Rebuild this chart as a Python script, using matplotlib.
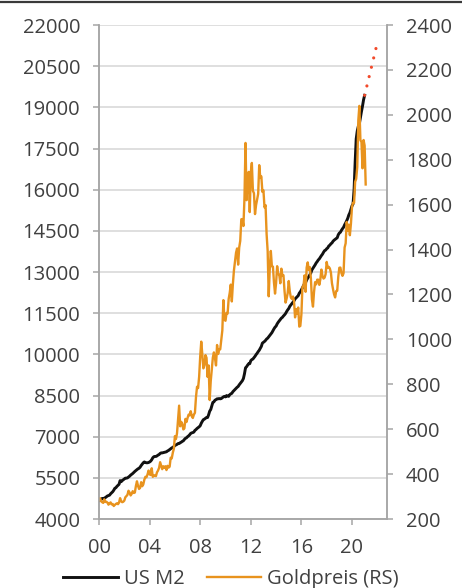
import numpy as np
from matplotlib import pyplot as plt
from matplotlib.lines import Line2D

plt.rcParams['font.family'] = ['Open Sans', 'DejaVu Sans']

# monthly values, Jan 2000 onwards
m2_start = 2000
us_m2 = [
    4667, 4680, 4706, 4750, 4745, 4760, 4780, 4810, 4840, 4855, 4870, 4920,
    4960, 4995, 5050, 5120, 5140, 5190, 5230, 5265, 5400, 5360, 5400, 5430,
    5460, 5490, 5490, 5500, 5530, 5560, 5600, 5630, 5660, 5700, 5735, 5770,
    5800, 5830, 5850, 5890, 5950, 6000, 6050, 6080, 6060, 6050, 6050, 6060,
    6080, 6110, 6160, 6230, 6270, 6280, 6280, 6300, 6330, 6350, 6390, 6410,
    6410, 6420, 6430, 6440, 6450, 6480, 6500, 6530, 6560, 6590, 6610, 6640,
    6680, 6700, 6720, 6750, 6750, 6780, 6800, 6830, 6850, 6900, 6940, 6960,
    7000, 7030, 7070, 7120, 7140, 7150, 7170, 7230, 7260, 7300, 7330, 7360,
    7400, 7490, 7560, 7620, 7640, 7670, 7700, 7700, 7800, 7930, 7990, 8120,
    8250, 8270, 8330, 8350, 8380, 8380, 8390, 8380, 8390, 8420, 8450, 8470,
    8450, 8500, 8480, 8470, 8530, 8560, 8580, 8640, 8680, 8720, 8760, 8800,
    8830, 8890, 8940, 8990, 9040, 9120, 9290, 9510, 9550, 9610, 9660, 9660,
    9770, 9810, 9830, 9880, 9930, 9990, 10040, 10100, 10150, 10220, 10290, 10410,
    10440, 10470, 10510, 10560, 10590, 10640, 10690, 10740, 10790, 10860, 10930, 10990,
    11030, 11110, 11170, 11220, 11270, 11320, 11350, 11400, 11440, 11490, 11560, 11620,
    11670, 11750, 11800, 11850, 11900, 11950, 12020, 12060, 12100, 12140, 12230, 12280,
    12350, 12430, 12500, 12580, 12620, 12710, 12780, 12830, 12900, 12970, 13080, 13140,
    13200, 13260, 13330, 13380, 13440, 13480, 13540, 13600, 13650, 13720, 13780, 13800,
    13850, 13880, 13950, 13980, 14030, 14060, 14120, 14160, 14190, 14220, 14250, 14360,
    14420, 14450, 14520, 14580, 14630, 14720, 14790, 14870, 14960, 15080, 15160, 15290,
    15410, 15480, 16010, 17000, 17850, 18140, 18310, 18400, 18630, 18850, 19050, 19280,
    19440,
]

gold_start = 2000
goldpreis = [
    283, 293, 279, 275, 272, 288, 276, 277, 273, 264, 270, 274,
    265, 267, 258, 263, 267, 270, 266, 273, 293, 279, 275, 277,
    282, 297, 302, 308, 326, 318, 305, 312, 324, 316, 318, 347,
    368, 348, 334, 339, 364, 346, 354, 375, 388, 386, 398, 416,
    399, 396, 426, 388, 393, 395, 391, 408, 416, 428, 453, 438,
    422, 435, 428, 435, 418, 437, 429, 433, 473, 470, 495, 513,
    569, 556, 582, 644, 705, 613, 633, 623, 599, 604, 646, 632,
    650, 665, 662, 680, 659, 650, 665, 673, 743, 789, 783, 834,
    923, 990, 934, 871, 885, 930, 918, 833, 884, 730, 814, 869,
    919, 942, 916, 884, 975, 935, 955, 956, 996, 1040, 1175, 1087,
    1083, 1118, 1115, 1180, 1207, 1244, 1169, 1246, 1307, 1346, 1386, 1405,
    1333, 1409, 1439, 1535, 1536, 1505, 1628, 1875, 1620, 1722, 1746, 1567,
    1744, 1786, 1662, 1651, 1558, 1598, 1622, 1648, 1776, 1720, 1726, 1657,
    1664, 1588, 1598, 1469, 1394, 1192, 1314, 1394, 1326, 1324, 1253, 1204,
    1251, 1326, 1291, 1288, 1250, 1315, 1285, 1286, 1216, 1164, 1182, 1206,
    1260, 1214, 1187, 1180, 1191, 1171, 1098, 1135, 1114, 1142, 1057, 1060,
    1111, 1234, 1237, 1285, 1212, 1320, 1343, 1309, 1322, 1273, 1178, 1146,
    1212, 1255, 1245, 1266, 1266, 1243, 1268, 1311, 1283, 1271, 1275, 1291,
    1345, 1318, 1323, 1316, 1298, 1250, 1224, 1201, 1187, 1215, 1217, 1279,
    1319, 1320, 1295, 1283, 1295, 1409, 1428, 1523, 1485, 1511, 1464, 1515,
    1589, 1609, 1608, 1702, 1715, 1768, 1975, 2040, 1887, 1879, 1762, 1888,
    1863, 1690,
]

# projected M2 path
proj_years = [2021.0, 2021.95]
proj_m2 = [19440, 21250]

year_ticks = [2000, 2004, 2008, 2012, 2016, 2020]
year_labels = ['00', '04', '08', '12', '16', '20']

text_col = '#404040'
spine_col = '#a6a6a6'

fig = plt.figure(figsize=(4.62, 5.88), dpi=100)
ax = fig.add_axes([0.2143, 0.1173, 0.6234, 0.8401])
ax2 = ax.twinx()

x_m2 = m2_start + np.arange(len(us_m2)) / 12
x_gold = gold_start + np.arange(len(goldpreis)) / 12

ax.plot(x_m2, us_m2, color='#111111', lw=2.1, label='US M2', zorder=3)
ax.plot(proj_years, proj_m2, color='#f24a2b', lw=2.3, zorder=3,
        dashes=(0.01, 3.0), dash_capstyle='round')
ax2.plot(x_gold, goldpreis, color='#e8931e', lw=1.7, label='Goldpreis (RS)')

ax.set_xlim(2000, 2022.77)
ax.set_ylim(4000, 22000)
ax.set_yticks(np.arange(4000, 22001, 1500))
ax2.set_ylim(200, 2400)
ax2.set_yticks(np.arange(200, 2401, 200))
ax.set_xticks(year_ticks)
ax.set_xticklabels(year_labels)

ax.grid(axis='y', color='#dcdcdc', lw=1.3)
ax.set_axisbelow(True)

for a in (ax, ax2):
    a.spines['top'].set_visible(False)
    for s in ('left', 'right', 'bottom'):
        a.spines[s].set_color(spine_col)
        a.spines[s].set_linewidth(1.1)
    a.tick_params(colors=spine_col, labelcolor=text_col, labelsize=14.5,
                  length=4.5, width=1.1, direction='out')
ax.tick_params(axis='y', pad=9)
ax2.tick_params(axis='y', pad=9)
ax.tick_params(axis='x', pad=9.5)

handles = [ax.get_lines()[0], ax2.get_lines()[0]]
fig.legend(handles, [h.get_label() for h in handles], loc='center',
           bbox_to_anchor=(0.5, 1 - 579 / 588), ncol=2, frameon=False,
           fontsize=14.5, labelcolor=text_col, handlelength=2.7,
           handletextpad=0.3, columnspacing=1.1, borderpad=0)

# rule along the top edge
fig.add_artist(Line2D([0, 1], [1 - 2 / 588, 1 - 2 / 588], color='#3a3a3a', lw=1.6))

fig.savefig('out.png', dpi=100)
